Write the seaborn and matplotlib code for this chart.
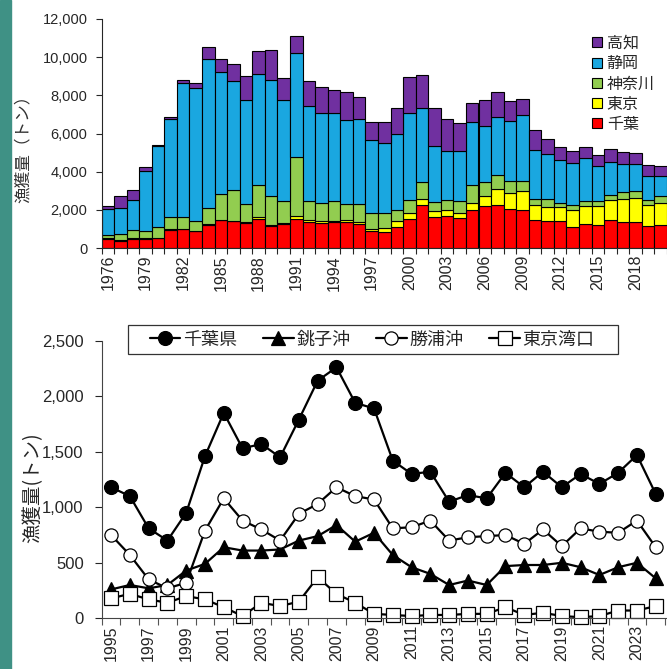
import numpy as np
import pandas as pd
import seaborn as sns
import matplotlib.pyplot as plt
from matplotlib.patches import Patch, Rectangle

# ---- top chart: catch by prefecture (stacked), 1976-2020 ----
years_top = list(range(1976, 2021))
chiba = [490, 380, 490, 490, 520, 960, 990, 870, 1220, 1450,
         1400, 1310, 1540, 1130, 1260, 1540, 1340, 1290, 1340, 1340,
         1270, 870, 840, 1100, 1520, 2270, 1620, 1690, 1570, 1970,
         2180, 2270, 2040, 2010, 1480, 1400, 1400, 1100, 1260, 1190,
         1450, 1360, 1360, 1170, 1220]
tokyo = [20, 20, 20, 20, 20, 20, 20, 20, 20, 30,
         30, 30, 60, 50, 30, 120, 140, 100, 60, 110,
         90, 140, 210, 300, 310, 300, 300, 320, 260, 390,
         560, 840, 840, 960, 790, 750, 750, 870, 960, 990,
         1050, 1210, 1260, 1100, 1140]
kanagawa = [150, 350, 450, 400, 560, 620, 590, 540, 840, 1350,
            1590, 960, 1680, 1520, 1190, 3090, 960, 950, 1040, 850,
            960, 820, 780, 610, 700, 870, 490, 520, 610, 960,
            720, 690, 610, 520, 310, 420, 210, 300, 260, 260,
            290, 360, 350, 260, 340]
shizuoka = [1380, 1340, 1570, 3120, 4220, 5170, 7040, 6950, 7830, 6370,
            5740, 5430, 5850, 6110, 5250, 5490, 5010, 4720, 4630, 4420,
            4430, 3840, 3670, 3980, 4570, 3890, 2910, 2530, 2620, 3280,
            2910, 3060, 3180, 3460, 2570, 2370, 2260, 2180, 2230, 1840,
            1710, 1470, 1430, 1260, 1050]
kochi = [140, 610, 520, 190, 90, 70, 170, 260, 600, 710,
         890, 1260, 1200, 1570, 1170, 890, 1280, 1400, 1220, 1480,
         1140, 930, 1110, 1370, 1840, 1710, 2010, 1710, 1480, 990,
         1400, 1290, 1040, 850, 1050, 770, 670, 610, 580, 570,
         680, 630, 570, 540, 530]
pref_order = ['高知', '静岡', '神奈川', '東京', '千葉']
pref_colors = {'高知': '#7030a0', '静岡': '#1aa7e0', '神奈川': '#92cd50',
               '東京': '#ffff00', '千葉': '#ff0000'}

# ---- bottom chart: Chiba catch by area, 1995-2024 ----
years_line = list(range(1995, 2025))
chiba_pref = [1180, 1100, 810, 700, 950, 1460,
              1850, 1530, 1570, 1450, 1790, 2140, 2260, 1940, 1890, 1420,
              1300, 1320, 1050, 1110, 1080, 1310, 1180, 1320, 1180, 1300,
              1210, 1310, 1470, 1120]
choshi = [260, 300, 270, 300, 430, 490,
          640, 610, 610, 620, 700, 740, 840, 690, 770, 570,
          460, 400, 300, 340, 300, 470, 480, 480, 500, 460,
          390, 460, 500, 360]
katsuura = [750, 570, 350, 270, 320, 790,
            1080, 880, 800, 700, 940, 1030, 1180, 1100, 1070, 810,
            820, 880, 700, 730, 740, 750, 670, 800, 650, 810,
            780, 770, 880, 640]
tokyo_bay = [180, 220, 170, 140, 200, 170,
             100, 20, 140, 110, 150, 370, 220, 140, 40, 30,
             20, 30, 30, 40, 40, 100, 30, 50, 20, 10,
             20, 70, 70, 110]

sns.set_style('ticks')
plt.rcParams['font.family'] = ['Noto Sans CJK JP', 'DejaVu Sans']
num_font = ['Liberation Sans', 'DejaVu Sans']

W, H = 667, 669
fig = plt.figure(figsize=(W / 100, H / 100), dpi=100)
fig.add_artist(Rectangle((0, 0), 11 / W, 1, transform=fig.transFigure,
                         color='#3f9185', zorder=0))

# top axes
ax1 = fig.add_axes([101.5 / W, 1 - 248 / H, 1 - 101.5 / W, 229 / H])
wide = pd.DataFrame({'year': years_top, '千葉': chiba, '東京': tokyo,
                     '神奈川': kanagawa, '静岡': shizuoka, '高知': kochi})
top = wide.melt(id_vars='year', var_name='pref', value_name='catch')
sns.histplot(data=top, x='year', weights='catch', hue='pref',
             hue_order=pref_order, multiple='stack', discrete=True, shrink=1,
             palette=pref_colors, alpha=1, edgecolor='black', linewidth=0.8,
             legend=False, ax=ax1)
ax1.set_xlim(1975.5, 1975.5 + (W - 101.5) / 12.73)
ax1.set_ylim(0, 12000)
yt = list(range(0, 12001, 2000))
ax1.set_yticks(yt)
ax1.set_yticklabels([f'{v:,}' for v in yt], fontfamily=num_font, fontsize=10.5)
xt = list(range(1976, 2020, 3))
ax1.set_xticks(xt)
ax1.set_xticklabels([str(y) for y in xt], rotation=90, fontsize=11.5,
                    fontfamily=['Liberation Sans Narrow'] + num_font)
ax1.set_xticks(np.arange(1975.5, 2021), minor=True)
ax1.tick_params(axis='x', which='major', length=0, pad=5)
ax1.tick_params(axis='x', which='minor', length=4, width=0.8)
ax1.tick_params(axis='y', length=4, width=0.8, pad=6)
sns.despine(ax=ax1)
ax1.set_xlabel('')
ax1.set_ylabel('漁獲量（トン）', fontsize=12, color='#333333')
ax1.yaxis.set_label_coords(-0.124, 0.45)
handles = [Patch(facecolor=pref_colors[p], edgecolor='black', linewidth=0.8)
           for p in pref_order]
ax1.legend(handles, pref_order, loc='upper left', bbox_to_anchor=(0.868, 0.93),
           frameon=False, fontsize=11.5, handlelength=0.6, handleheight=0.6,
           handletextpad=0.3, labelspacing=0.2, borderpad=0, borderaxespad=0)

# bottom axes
ax2 = fig.add_axes([101.7 / W, 1 - 618.3 / H, 1 - 101.7 / W, 277.6 / H])
series = [('千葉県', chiba_pref, 'o', 'black', 10),
          ('銚子沖', choshi, '^', 'black', 10),
          ('勝浦沖', katsuura, 'o', 'white', 9.5),
          ('東京湾口', tokyo_bay, 's', 'white', 10)]
for name, vals, mk, fc, ms in series:
    sns.lineplot(x=years_line, y=vals, ax=ax2, color='black', lw=1.6,
                 marker=mk, markersize=ms, markerfacecolor=fc,
                 markeredgecolor='black', markeredgewidth=0.9,
                 label=name, clip_on=False)
ax2.set_xlim(1994.5, 1994.5 + (W - 101.7) / 18.78)
ax2.set_ylim(0, 2500)
yt2 = list(range(0, 2501, 500))
ax2.set_yticks(yt2)
ax2.set_yticklabels([f'{v:,}' for v in yt2], fontfamily=num_font, fontsize=12)
xt2 = list(range(1995, 2025, 2))
ax2.set_xticks(xt2)
ax2.set_xticklabels([str(y) for y in xt2], rotation=90, fontsize=11.5,
                    fontfamily=num_font)
ax2.set_xticks(np.arange(1994.5, 2025), minor=True)
ax2.tick_params(axis='x', which='major', length=0, pad=5)
ax2.tick_params(axis='x', which='minor', length=5, width=0.8, color='#555555')
ax2.tick_params(axis='y', length=5, width=0.8, pad=8)
sns.despine(ax=ax2)
for s in ('left', 'bottom'):
    ax2.spines[s].set_color('#444444')
ax2.set_xlabel('')
ax2.set_ylabel('漁獲量(トン)', fontsize=14)
ax2.yaxis.set_label_coords(-0.104, 0.47)
ax2.legend(loc='center', bbox_to_anchor=(0.085, 0.952, 0.787, 0.1046),
           mode='expand', ncol=4, frameon=False, fontsize=13,
           handlelength=1.7, handletextpad=0.15, borderpad=0, borderaxespad=0)
ax2.add_patch(Rectangle((0.0465, 0.952), 0.8668, 0.1046,
                        transform=ax2.transAxes, fill=False,
                        edgecolor='#333333', lw=0.9, clip_on=False))

fig.savefig('out.png', dpi=100)
